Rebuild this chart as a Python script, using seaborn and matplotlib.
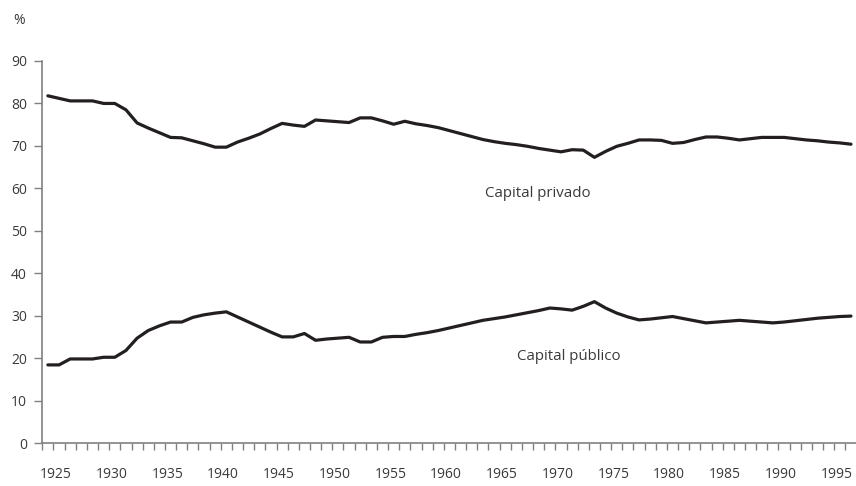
import numpy as np
import pandas as pd
import matplotlib
matplotlib.use("Agg")
import matplotlib.pyplot as plt
import seaborn as sns

# Participación en el stock de capital (%), 1925-1997
years = list(range(1925, 1998))

privado = [81.8, 81.2, 80.6, 80.6, 80.6, 80.0, 80.0, 78.5, 75.4, 74.2,
           73.1, 72.0, 71.9, 71.2, 70.5, 69.7, 69.7, 70.9, 71.8, 72.8,
           74.1, 75.3, 74.9, 74.6, 76.1, 75.9, 75.7, 75.5, 76.6, 76.6,
           75.9, 75.1, 75.8, 75.2, 74.8, 74.3, 73.6, 72.9, 72.2, 71.5,
           71.0, 70.6, 70.3, 69.9, 69.4, 69.0, 68.6, 69.1, 69.0, 67.3,
           68.7, 69.9, 70.6, 71.4, 71.4, 71.3, 70.6, 70.8, 71.5, 72.1,
           72.1, 71.8, 71.4, 71.7, 72.0, 72.0, 72.0, 71.7, 71.4, 71.2,
           70.9, 70.7, 70.4]

publico = [18.4, 18.4, 19.8, 19.8, 19.8, 20.2, 20.2, 21.8, 24.7, 26.5,
           27.6, 28.5, 28.5, 29.6, 30.2, 30.6, 30.9, 29.7, 28.5, 27.3,
           26.1, 25.0, 25.0, 25.8, 24.2, 24.5, 24.7, 24.9, 23.8, 23.8,
           24.9, 25.1, 25.1, 25.6, 26.0, 26.5, 27.1, 27.7, 28.3, 28.9,
           29.3, 29.7, 30.2, 30.7, 31.2, 31.8, 31.6, 31.3, 32.2, 33.3,
           31.8, 30.6, 29.7, 29.0, 29.2, 29.5, 29.8, 29.3, 28.8, 28.3,
           28.5, 28.7, 28.9, 28.7, 28.5, 28.3, 28.5, 28.8, 29.1, 29.4,
           29.6, 29.8, 29.9]

label_years = list(range(1925, 2000, 5))
y_ticks = list(range(0, 100, 10))

sns.set_style("white")
plt.rcParams["font.family"] = ["Open Sans", "DejaVu Sans"]

df = pd.DataFrame({"year": years * 2,
                   "valor": privado + publico,
                   "serie": ["Capital privado"] * len(years) + ["Capital público"] * len(years)})

fig = plt.figure(figsize=(8.56, 4.86), dpi=100)
ax = fig.add_axes([42.3 / 856, 43 / 486, (856 - 42.3) / 856, 382 / 486])

sns.lineplot(data=df, x="year", y="valor", units="serie", estimator=None,
             color="#231f20", linewidth=2.3, ax=ax)

ax.set_xlim(1924.55, 1997.45)
ax.set_ylim(0, 90)
ax.set_xlabel("")
ax.set_ylabel("")

txt = "#3a3a3a"
axc = "#808080"
for s in ["top", "right"]:
    ax.spines[s].set_visible(False)
for s in ["left", "bottom"]:
    ax.spines[s].set_color(axc)
    ax.spines[s].set_linewidth(1.2)

ax.set_yticks(y_ticks)
ax.set_yticklabels([str(v) for v in y_ticks])
ax.tick_params(axis="y", direction="out", length=6, width=1, color=axc,
               pad=5, labelsize=10, labelcolor=txt, left=True)

# labels sit between the yearly tick marks
ax.set_xticks(np.array(label_years) + 0.7)
ax.set_xticklabels([str(y) for y in label_years])
ax.set_xticks(np.arange(1924.5, 1997.0, 1.0), minor=True)
ax.tick_params(axis="x", which="major", length=0, pad=17, labelsize=10, labelcolor=txt)
ax.tick_params(axis="x", which="minor", direction="out", length=5.2, width=1,
               color=axc, bottom=True)

ax.text(1968.9, 58.9, "Capital privado", ha="center", va="center", fontsize=10.8, color=txt)
ax.text(1971.7, 20.3, "Capital público", ha="center", va="center", fontsize=10.8, color=txt)
fig.text(19 / 856, 1 - 21 / 486, "%", ha="center", va="center", fontsize=10, color=txt)

fig.savefig("out.png", dpi=100)
